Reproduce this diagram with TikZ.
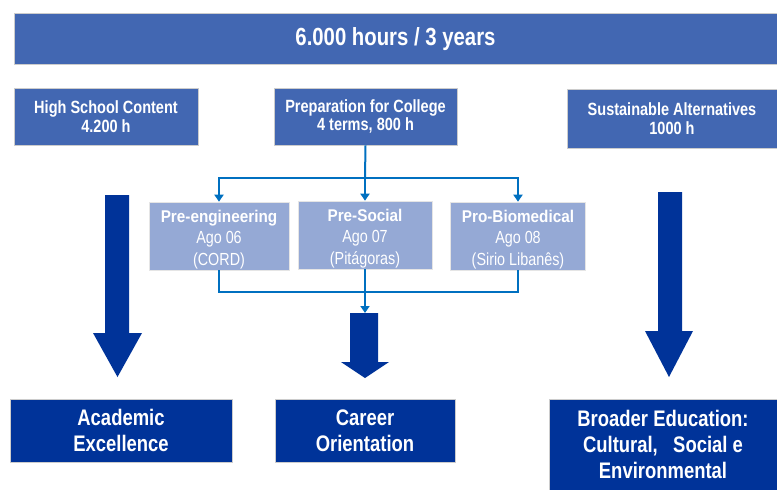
\documentclass[tikz,border=0pt]{standalone}
\usepackage{fontspec}
\setmainfont{Liberation Sans}
\newfontfamily\narrow[FakeStretch=0.82]{Liberation Sans}
\newfontfamily\semi[FakeStretch=0.9]{Liberation Sans}
\usetikzlibrary{arrows.meta}
\definecolor{banner}{HTML}{4267B2}
\definecolor{light}{HTML}{95A9D5}
\definecolor{conn}{HTML}{0070C0}
\definecolor{dark}{HTML}{003399}
\tikzset{
  midbox/.style={fill=banner, draw=black!20, line width=0.6pt, text=white, align=center,
    inner sep=0pt, font=\narrow\bfseries\fontsize{17.7}{18.5}\selectfont},
  lightbox/.style={fill=light, draw=black!10, line width=0.6pt, inner sep=0pt},
  lighttext/.style={text=white, align=center, inner sep=0pt, yshift=-3.5pt,
    font=\narrow\fontsize{17.5}{21.5}\selectfont},
  darkbox/.style={fill=dark, draw=black!20, line width=0.6pt, text=white, align=center,
    inner sep=0pt, font=\narrow\bfseries\fontsize{22.5}{26}\selectfont},
  connline/.style={draw=conn, line width=2pt},
  conntip/.style={-{Triangle[width=9pt,length=7pt]}},
  bigarrow/.style={fill=dark}
}
\newcommand{\ltitle}[1]{{\semi\bfseries\fontsize{17}{21.5}\selectfont #1}}
\begin{document}
\begin{tikzpicture}[x=1pt,y=-1pt]
\useasboundingbox (0,0) rectangle (777,490);
\node[midbox, minimum width=763pt, minimum height=51pt, font=\narrow\bfseries\fontsize{24.8}{26}\selectfont] (top) at (395.5,39) {6.000 hours / 3 years};
\node[midbox, minimum width=184pt, minimum height=57pt] (hs) at (106,116.5) {\raisebox{-1.5pt}{}High School Content\\4.200 h};
\node[midbox, minimum width=183pt, minimum height=57pt] (prep) at (365.5,116.5) {Preparation for College\\4 terms, 800 h};
\node[midbox, minimum width=210pt, minimum height=59pt] (sust) at (672,118.5) {Sustainable Alternatives\\1000 h};

\node[lightbox, minimum width=140pt, minimum height=68pt,
  label={[lighttext]center:{\ltitle{Pre-engineering}\\Ago 06\\(CORD)}}] (eng) at (219,236) {};
\node[lightbox, minimum width=134pt, minimum height=68pt,
  label={[lighttext]center:{\ltitle{Pre-Social}\\Ago 07\\(Pitágoras)}}] (soc) at (365,235) {};
\node[lightbox, minimum width=135pt, minimum height=68pt,
  label={[lighttext]center:{\ltitle{Pro-Biomedical}\\Ago 08\\(Sirio Libanês)}}] (bio) at (518,236) {};

\node[darkbox, minimum width=222pt, minimum height=63pt] (acad) at (121,430.5) {Academic\\Excellence};
\node[darkbox, minimum width=180pt, minimum height=63pt] (career) at (365,430.5) {Career\\Orientation};
\node[darkbox, minimum width=228pt, minimum height=91pt] (broad) at (663,444.5) {Broader Education:\\Cultural,\ \ \ Social e\\Environmental};

% top connectors
\coordinate (split) at (365,178);
\coordinate (join) at (365,292);
\draw[connline] (prep.south) -- (split);
\draw[connline, conntip] (split) -- (soc.north);
\draw[connline, conntip] (split) -| (eng.north);
\draw[connline, conntip] (split) -| (bio.north);
% bottom connectors
\draw[connline] (eng.south) |- (join);
\draw[connline] (bio.south) |- (join);
\draw[connline] (soc.south) -- (join);
\coordinate (cTail) at (365,313);
\draw[connline, conntip] (join) -- (cTail);

% big arrows
\fill[bigarrow] (105,195) -- (129,195) -- (129,333) -- (142,333) -- (117.5,377) -- (93,333) -- (105,333) -- cycle;
\fill[bigarrow] (658,192) -- (682,192) -- (682,331) -- (693,331) -- (669,377) -- (645,331) -- (658,331) -- cycle;
\fill[bigarrow] (350,313) -- (378,313) -- (378,362) -- (389,362) -- (365,378) -- (341,362) -- (350,362) -- cycle;
\end{tikzpicture}
\end{document}
